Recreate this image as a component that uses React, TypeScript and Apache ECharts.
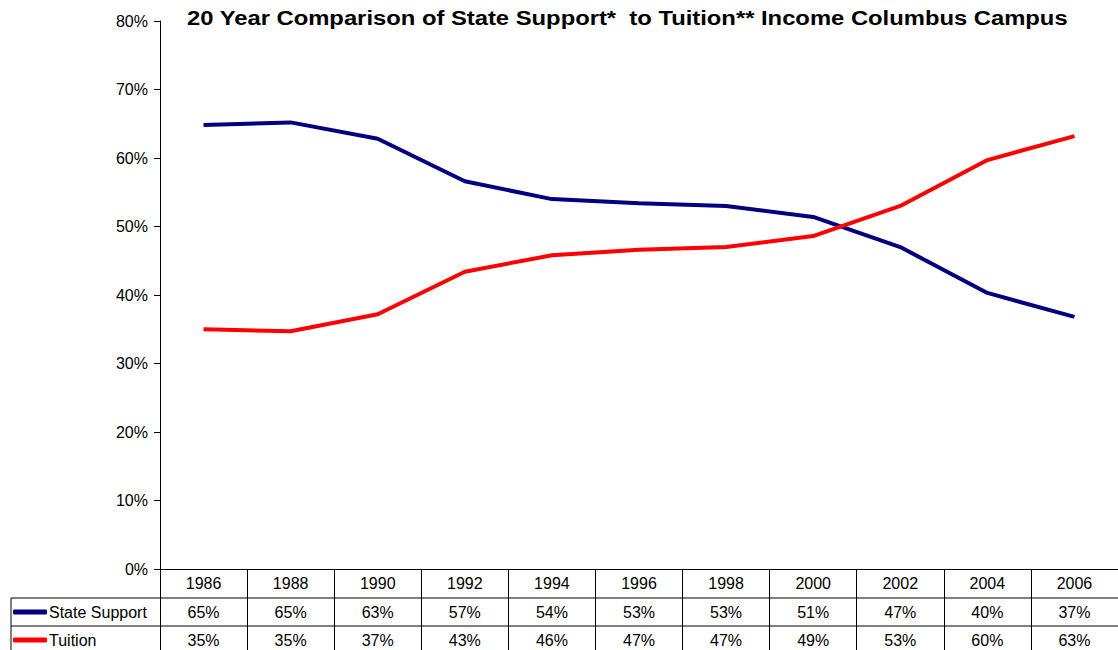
import React, { useEffect, useRef } from "react";
import * as echarts from "echarts";

const years = ["1986", "1988", "1990", "1992", "1994", "1996", "1998", "2000", "2002", "2004", "2006"];
const stateSupport = [64.8, 65.2, 62.8, 56.6, 54.0, 53.4, 53.0, 51.4, 47.0, 40.3, 36.8];
const tuition = [35.0, 34.7, 37.2, 43.4, 45.8, 46.6, 47.0, 48.6, 53.0, 59.7, 63.2];
const yTicks = { min: 0, max: 80, interval: 10 };
const titleText = "20 Year Comparison of State Support*  to Tuition** Income Columbus Campus";

const FONT = "Liberation Sans, Arial, sans-serif";

export default function App() {
  const ref = useRef<HTMLDivElement>(null);
  useEffect(() => {
    if (!ref.current) return;
    const chart = echarts.init(ref.current, null, { renderer: "svg" });
    const gridLeft = 160;
    const gridTop = 21;
    const gridHeight = 548;
    const colW = 87.6;
    const gridWidth = colW * years.length;
    const bottomY = gridTop + gridHeight;
    const row1 = 29;
    const row2 = 57;
    const tableBottom = 650;
    const lineStyle = { color: "#000", width: 1 };
    const pct = (arr: number[]) => (_v: string, i: number) => Math.round(arr[i]) + "%";
    const hiddenAxis = (offset: number, arr: number[]) => ({
      type: "category",
      data: years,
      position: "bottom",
      offset,
      gridIndex: 0,
      boundaryGap: true,
      axisLine: { show: false },
      axisTick: { show: false },
      axisLabel: { formatter: pct(arr), fontSize: 16, color: "#000", fontFamily: FONT, margin: 6, interval: 0 },
    });
    const legendItem = (name: string, top: number) => ({
      orient: "horizontal",
      left: 13,
      top,
      padding: 0,
      itemWidth: 34,
      itemHeight: 5,
      itemGap: 0,
      icon: "roundRect",
      textStyle: { fontSize: 16, color: "#000", fontFamily: FONT, padding: [0, 0, 0, -3] },
      data: [name],
    });
    chart.setOption({
      animation: false,
      backgroundColor: "#fff",
      legend: [legendItem("State Support", 604), legendItem("Tuition", 632)],
      grid: { left: gridLeft, top: gridTop, width: gridWidth, height: gridHeight },
      xAxis: [
        {
          type: "category",
          data: years,
          boundaryGap: true,
          axisLine: { show: true, lineStyle },
          axisTick: { show: true, length: tableBottom - bottomY, lineStyle, interval: 0 },
          axisLabel: { fontSize: 16, color: "#000", fontFamily: FONT, margin: 6, interval: 0 },
        },
        hiddenAxis(row1, stateSupport),
        hiddenAxis(row2, tuition),
      ],
      yAxis: {
        type: "value",
        min: yTicks.min,
        max: yTicks.max,
        interval: yTicks.interval,
        axisLine: { show: true, lineStyle },
        axisTick: { show: true, length: 6, lineStyle },
        splitLine: { show: false },
        axisLabel: { formatter: "{value}%", fontSize: 16, color: "#000", fontFamily: FONT, margin: 12 },
      },
      graphic: [
        {
          type: "text",
          x: 187,
          y: 8,
          scaleX: 1.19,
          style: { text: titleText, font: "bold 20px " + FONT, fill: "#000", textVerticalAlign: "top" },
        },
        { type: "line", shape: { x1: 11, y1: bottomY + row1, x2: 1118, y2: bottomY + row1 }, style: { stroke: "#000", lineWidth: 1 } },
        { type: "line", shape: { x1: 11, y1: bottomY + row2, x2: 1118, y2: bottomY + row2 }, style: { stroke: "#000", lineWidth: 1 } },
        { type: "line", shape: { x1: 11, y1: bottomY + row1, x2: 11, y2: tableBottom }, style: { stroke: "#000", lineWidth: 1 } },
      ],
      series: [
        {
          name: "State Support",
          type: "line",
          data: stateSupport,
          showSymbol: false,
          symbol: "none",
          color: "#000080",
          lineStyle: { width: 4, color: "#000080" },
        },
        {
          name: "Tuition",
          type: "line",
          data: tuition,
          showSymbol: false,
          symbol: "none",
          color: "#ff0000",
          lineStyle: { width: 4, color: "#ff0000" },
        },
      ],
    });
    return () => chart.dispose();
  }, []);
  return (
    <div
      ref={ref}
      style={{ position: "fixed", left: 0, top: 0, width: 1118, height: 650, background: "#fff" }}
    />
  );
}
